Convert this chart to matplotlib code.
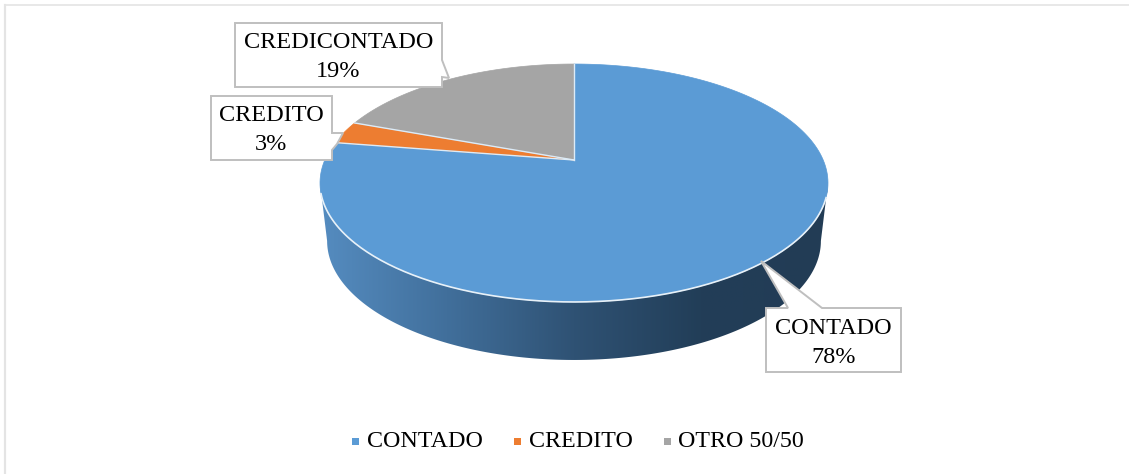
import numpy as np
import matplotlib
matplotlib.use("Agg")
import matplotlib.pyplot as plt
from matplotlib.patches import Polygon, Rectangle
from matplotlib.colors import LinearSegmentedColormap

W, H = 1129, 474

# Data
labels = ["CONTADO", "CREDITO", "CREDICONTADO"]
legend_labels = ["CONTADO", "CREDITO", "OTRO 50/50"]
values = [77.5, 3.1, 19.4]
percents = [78, 3, 19]
colors = ["#5b9bd5", "#ed7d31", "#a5a5a5"]

plt.rcParams["font.family"] = "Liberation Serif"

fig = plt.figure(figsize=(W / 100, H / 100), dpi=100)
ax = fig.add_axes([0, 0, 1, 1])
ax.set_xlim(0, W)
ax.set_ylim(H, 0)
ax.axis("off")

CX, CY = 574, 160
C = 0.1933
DEPTH = 58
BOTTOM_SCALE = 0.972


def project(theta):
    # theta clockwise from 12 o'clock, pie tilted with perspective
    u, v = np.sin(theta), np.cos(theta)
    d = 1 + C * v
    return CX + 249.2 * u / d, (-83.6 * v + CY) / d


def wedge(a0, a1):
    t = np.linspace(a0, a1, 200)
    x, y = project(t)
    return np.column_stack([np.r_[CX, x], np.r_[CY, y]])


# frame, only top and left show
ax.plot([5, 5], [H, 5], color="#e4e4e4", lw=1.6)
ax.plot([5, W], [5, 5], color="#e4e4e4", lw=1.2)

# side wall between the two widest points of the rim
widest = np.arccos(-C)
t = np.linspace(widest, 2 * np.pi - widest, 300)
x, y = project(t)
xb = CX + (x - CX) * BOTTOM_SCALE
yb = y + DEPTH
wall = np.column_stack([np.r_[x, xb[::-1]], np.r_[y, yb[::-1]]])
clip = Polygon(wall, closed=True, fc="none", ec="none")
ax.add_patch(clip)
cmap = LinearSegmentedColormap.from_list(
    "wall", ["#558cc0", "#416f9b", "#2f5274", "#223e58", "#223c55"]
)
img = ax.imshow(
    np.linspace(0, 1, 256)[None, :], cmap=cmap, extent=(320, 828, 370, 170),
    aspect="auto", zorder=2,
)
img.set_clip_path(clip)
ax.set_xlim(0, W)
ax.set_ylim(H, 0)

# top faces
edges = np.r_[0, np.cumsum(values)] / 100 * 2 * np.pi
for i in range(len(values)):
    ax.add_patch(
        Polygon(wedge(edges[i], edges[i + 1]), closed=True, fc=colors[i],
                ec=colors[i], lw=0.5, zorder=3)
    )
# thin separators between slices
for a in edges[:-1]:
    x, y = project(np.array(a))
    ax.plot([CX, x], [CY, y], color="#dcebf7", lw=1.0, zorder=3.4)
# light front rim of the top
t = np.linspace(0.6 * np.pi, 1.41 * np.pi, 200)
x, y = project(t)
ax.plot(x, y, color="#e8f1f8", lw=1.2, zorder=3.5)

# callout outlines
callouts = [
    [(766, 308), (788, 308), (761, 261), (822, 308), (901, 308), (901, 372), (766, 372)],
    [(211, 96), (332, 96), (332, 133), (343, 133), (337, 144), (332, 150), (332, 160), (211, 160)],
    [(235, 23), (442, 23), (442, 60), (449, 78), (442, 77), (442, 87), (235, 87)],
]
centers = [(833.5, 343), (271.5, 130), (338.5, 57)]
for i, pts in enumerate(callouts):
    ax.add_patch(Polygon(pts, closed=True, fc="white", ec="#bfbfbf", lw=1.4, zorder=4))
    ax.text(centers[i][0], centers[i][1], f"{labels[i]}\n{percents[i]}%", ha="center",
            va="center", fontsize=17.5, color="black", linespacing=1.45, zorder=5)

# legend
leg_sq = [352, 514, 664]
leg_tx = [367, 529, 678]
for sx, tx, lab, col in zip(leg_sq, leg_tx, legend_labels, colors):
    ax.add_patch(Rectangle((sx, 438), 7, 7, fc=col, ec="none"))
    ax.text(tx, 441.5, lab, ha="left", va="center", fontsize=17.3, color="black")

fig.savefig("out.png", dpi=100)
